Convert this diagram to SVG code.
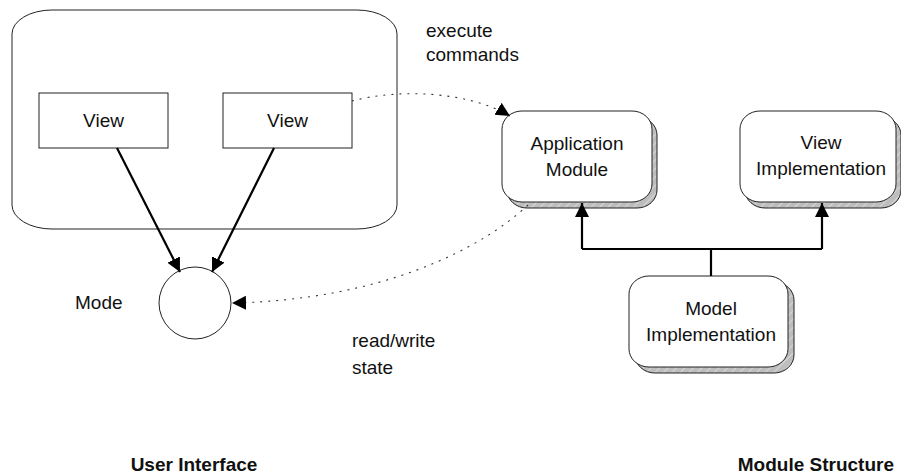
<svg xmlns="http://www.w3.org/2000/svg" width="901" height="476" viewBox="0 0 901 476">
  <defs>
    <style>
      text { font-family: "Liberation Sans", Arial, sans-serif; font-size: 19px; fill: #111; }
      .c { text-anchor: middle; }
      .e { text-anchor: end; }
      .b { font-weight: bold; }
      .box { fill: #fff; stroke: #222; stroke-width: 1; }
      .shadow { fill: url(#hatch); stroke: #222; stroke-width: 1; }
      .solid { fill: none; stroke: #000; stroke-width: 2.2; }
      .dotted { fill: none; stroke: #333; stroke-width: 1.1; stroke-dasharray: 2 6; }
    </style>
    <pattern id="hatch" width="6" height="6" patternUnits="userSpaceOnUse" patternTransform="rotate(45)">
      <rect width="6" height="6" fill="#bdbdbd"/>
      <line x1="0" y1="0" x2="0" y2="6" stroke="#e0e0e0" stroke-width="1.5"/>
    </pattern>
    <marker id="arrow" markerUnits="userSpaceOnUse" markerWidth="16" markerHeight="16" refX="14" refY="7" orient="auto">
      <path d="M0,0 L14,7 L0,14 Z" fill="#000"/>
    </marker>
  </defs>

  <!-- user interface container -->
  <g id="ui-frame">
    <rect x="12" y="10" width="385" height="219" rx="40" ry="24" class="box"/>
  </g>

  <g id="view-left">
    <rect x="39" y="93" width="129" height="55" class="box"/>
    <text x="103.5" y="127" class="c">View</text>
  </g>

  <g id="view-right">
    <rect x="223" y="93" width="129" height="55" class="box"/>
    <text x="287.5" y="127" class="c">View</text>
  </g>

  <g id="mode">
    <circle cx="195" cy="303" r="36" class="box"/>
    <text x="75" y="309">Mode</text>
  </g>

  <g id="application-module">
    <rect x="507" y="117" width="150" height="91" rx="20" ry="18" class="shadow"/>
    <rect x="502" y="111" width="150" height="91" rx="20" ry="18" class="box"/>
    <text x="577" y="150" class="c">Application</text>
    <text x="577" y="176" class="c">Module</text>
  </g>

  <g id="view-implementation">
    <rect x="745" y="117" width="156" height="91" rx="20" ry="18" class="shadow"/>
    <rect x="740" y="111" width="156" height="91" rx="20" ry="18" class="box"/>
    <text x="821" y="149" class="c">View</text>
    <text x="821" y="175" class="c">Implementation</text>
  </g>

  <g id="model-implementation">
    <rect x="635" y="282" width="159" height="91" rx="20" ry="18" class="shadow"/>
    <rect x="629" y="276" width="159" height="91" rx="20" ry="18" class="box"/>
    <text x="711" y="315" class="c">Model</text>
    <text x="711" y="341" class="c">Implementation</text>
  </g>

  <!-- connectors -->
  <g id="connectors">
    <line x1="117" y1="148" x2="180" y2="272" class="solid" marker-end="url(#arrow)"/>
    <line x1="274" y1="148" x2="212" y2="272" class="solid" marker-end="url(#arrow)"/>
    <path d="M352,101 C400,88 470,92 510,116" class="dotted" marker-end="url(#arrow)"/>
    <path d="M528,205 C480,250 380,300 232,303" class="dotted" marker-end="url(#arrow)"/>
    <path d="M711,276 V249 M582,249 H822" class="solid"/>
    <line x1="582" y1="249" x2="582" y2="203" class="solid" marker-end="url(#arrow)"/>
    <line x1="822" y1="249" x2="822" y2="203" class="solid" marker-end="url(#arrow)"/>
  </g>

  <!-- connector labels -->
  <g id="labels">
    <text x="426" y="37">execute</text>
    <text x="426" y="61">commands</text>
    <text x="352" y="347">read/write</text>
    <text x="352" y="374">state</text>
  </g>

  <!-- section captions -->
  <g id="captions">
    <text x="194" y="471" class="c b">User Interface</text>
    <text x="894" y="471" class="e b">Module Structure</text>
  </g>
</svg>
